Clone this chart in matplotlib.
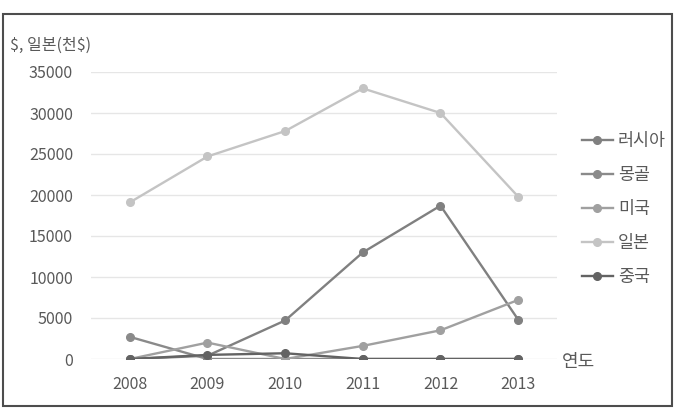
import matplotlib
matplotlib.use("Agg")
import matplotlib.pyplot as plt
from matplotlib.patches import Rectangle

plt.rcParams['font.family'] = ['Noto Sans CJK KR', 'DejaVu Sans']

years = ['2008', '2009', '2010', '2011', '2012', '2013']
series_names = ['러시아', '몽골', '미국', '일본', '중국']
russia = [0, 400, 4700, 13000, 18700, 4800]
mongolia = [2700, 0, 0, 0, 0, 0]
usa = [0, 2000, 0, 1600, 3500, 7200]
japan = [19100, 24700, 27800, 33000, 30000, 19800]
china = [0, 500, 700, 0, 0, 0]
yticks = [0, 5000, 10000, 15000, 20000, 25000, 30000, 35000]
colors = ['#808080', '#8a8a8a', '#a0a0a0', '#c4c4c4', '#636363']

fig = plt.figure(figsize=(6.84, 4.18), dpi=100)
ax = fig.add_axes([91/684, 59/418, 466/684, 287/418])

x = list(range(len(years)))
data = [russia, mongolia, usa, japan, china]
for name, vals, c in zip(series_names, data, colors):
    ax.plot(x, vals, color=c, lw=1.7, marker='o', ms=5.5, label=name, zorder=3)

ax.set_xlim(-0.5, len(years) - 0.5)
ax.set_ylim(0, 35000)
ax.set_yticks(yticks)
ax.set_yticklabels([str(v) for v in yticks])
ax.set_xticks(x)
ax.set_xticklabels(years)
ax.yaxis.grid(True, color='#e6e6e6', lw=1)
ax.set_axisbelow(True)
for s in ax.spines.values():
    s.set_visible(False)
ax.tick_params(length=0, labelsize=11.5, colors='#595959')
ax.tick_params(axis='y', pad=13)
ax.tick_params(axis='x', pad=12)

fig.text(10/684, 1 - 45/418, r'\$, 일본(천\$)', fontsize=11.5, color='#595959', va='center', ha='left')
fig.text(562/684, 1 - 362/418, '연도', fontsize=13, color='#595959', va='center', ha='left')

leg = fig.legend(loc='upper left', bbox_to_anchor=(566/684, 1 - 116/418), frameon=False,
                 fontsize=12.5, handlelength=1.8, handletextpad=0.3, labelspacing=0.93,
                 labelcolor='#595959')

fig.patches.append(Rectangle((3/684, 1 - 406/418), 669/684, 392/418, transform=fig.transFigure,
                             fill=False, edgecolor='#4d4d4d', lw=1.5))

fig.savefig('out.png', dpi=100)
